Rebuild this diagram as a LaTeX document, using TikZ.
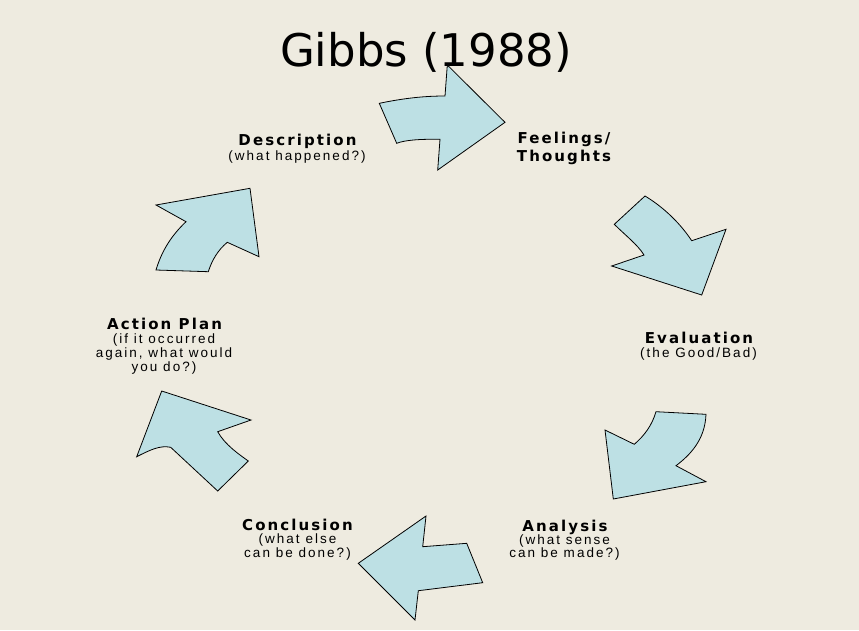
\documentclass[tikz,border=0pt]{standalone}
\usepackage{fontspec}
\setmainfont{Liberation Sans}
\newfontfamily\titlefont{DejaVu Sans}
\newfontfamily\hdfont{DejaVu Sans}[LetterSpace=14]
\newfontfamily\sbfont{Liberation Sans}[LetterSpace=15]
\definecolor{bg}{RGB}{238,235,224}
\definecolor{arrowfill}{RGB}{189,224,228}
\tikzset{
  arr/.style={fill=arrowfill,draw=black,line width=0.8pt,line join=miter},
  hd/.style={font=\hdfont\bfseries\fontsize{15}{15}\selectfont,anchor=base,inner sep=0pt},
  sb/.style={font=\sbfont\fontsize{13.5}{14}\selectfont,anchor=base,inner sep=0pt},
  ttl/.style={font=\titlefont\fontsize{45}{45}\selectfont,anchor=base,inner sep=0pt}
}
\begin{document}
\begin{tikzpicture}[x=1pt,y=-1pt]
\fill[bg] (0,0) rectangle (859,630);
\useasboundingbox (0,0) rectangle (859,630);
\node[ttl] (title) at (426,66) {Gibbs (1988)};
% arrows
\draw[arr] (379.3,103.3) .. controls (405,98) and (425,96) .. (445,96) -- (447.3,65) -- (505,122.3) -- (437.7,170) -- (440,139.3) .. controls (420,139) and (405,140) .. (396.7,143.3) -- cycle;
\draw[arr] (645,196) -- (614.3,224.3) .. controls (625,235) and (638,245) .. (644,255) -- (611.7,266) -- (701.7,295) -- (726,229.3) -- (691.7,240.7) .. controls (678,220) and (660,205) .. (645,196) -- cycle;
\draw[arr] (656,411.7) -- (706,414.3) .. controls (705,440) and (690,455) .. (676,465.7) -- (706,481.7) -- (613.3,499) -- (605,430) -- (634.3,444.3) .. controls (645,435) and (652,425) .. (656,411.7) -- cycle;
\draw[arr] (426,516) -- (422.7,546.7) -- (466.7,543.3) -- (482.7,582.7) -- (418.3,590.7) -- (415,620) -- (358.3,563.3) -- cycle;
\draw[arr] (161.7,391) -- (251,420) -- (217.7,431.7) .. controls (225,445) and (240,455) .. (248.3,461) -- (217.7,491) -- (170.7,447.3) .. controls (160,445) and (150,450) .. (136.7,456.7) -- cycle;
\draw[arr] (250,188.3) -- (259,256.7) -- (227.3,242.3) .. controls (218,250) and (212,260) .. (208.3,271.7) -- (156,270) .. controls (162,250) and (172,235) .. (186,221.7) -- (156,205) -- cycle;
% labels
\node[hd] (desc) at (297.5,145) {Description};
\node[sb] (descs) at (297,160.5) {(what happened?)};
\node[hd] (feel1) at (564,143.5) {Feelings/};
\node[hd] (feel2) at (564,161.5) {Thoughts};
\node[hd] (eval) at (699,343.5) {Evaluation};
\node[sb] (evals) at (698.5,357) {(the Good/Bad)};
\node[hd] (anal) at (565,531) {Analysis};
\node[sb] (anals1) at (564.5,544.5) {(what sense};
\node[sb] (anals2) at (564.5,557.5) {can be made?)};
\node[hd] (conc) at (297.5,530.5) {Conclusion};
\node[sb] (concs1) at (297.5,543.5) {(what else};
\node[sb] (concs2) at (297.5,557.5) {can be done?)};
\node[hd] (act) at (164.5,329) {Action Plan};
\node[sb] (acts1) at (164,343) {(if it occurred};
\node[sb] (acts2) at (164,357) {again, what would};
\node[sb] (acts3) at (164,371) {you do?)};
\end{tikzpicture}
\end{document}
